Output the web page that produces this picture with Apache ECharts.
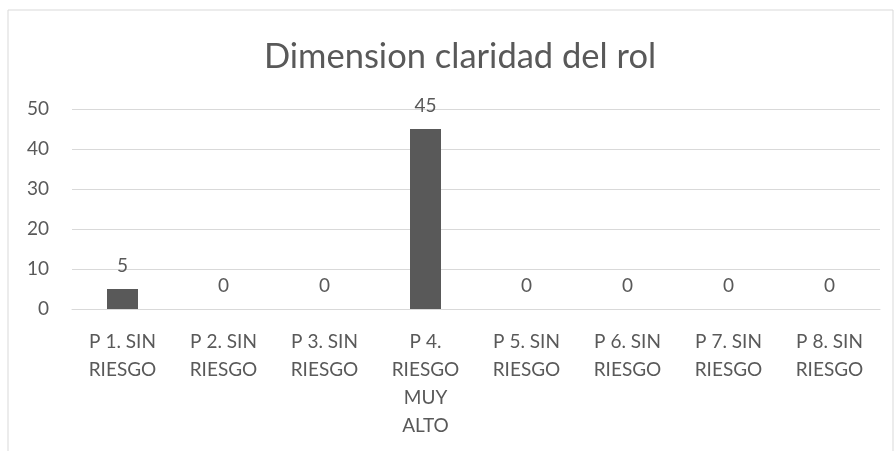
<!DOCTYPE html>
<html>
<head>
<meta charset="utf-8">
<script src="https://cdn.jsdelivr.net/npm/echarts@6/dist/echarts.min.js"></script>
<style>
  html, body { margin: 0; padding: 0; background: #fff; }
  #container { width: 896px; height: 451px; }
</style>
</head>
<body>
<div id="container"></div>
<script>
// datos del grafico
var categorias = ['P 1. SIN\nRIESGO', 'P 2. SIN\nRIESGO', 'P 3. SIN\nRIESGO', 'P 4.\nRIESGO\nMUY\nALTO',
                  'P 5. SIN\nRIESGO', 'P 6. SIN\nRIESGO', 'P 7. SIN\nRIESGO', 'P 8. SIN\nRIESGO'];
var valores = [5, 0, 0, 45, 0, 0, 0, 0];
var yTicks = [0, 10, 20, 30, 40, 50];

var fuente = 'Lato, "Open Sans", sans-serif';
var gris = '#595959';

var dom = document.getElementById('container');
var myChart = echarts.init(dom);
var option = {
    backgroundColor: '#fff',
    animation: false,
    title: {
        text: 'Dimension claridad del rol',
        left: 455,
        top: 34,
        textAlign: 'center',
        textStyle: { fontFamily: fuente, fontSize: 34.5, fontWeight: 'normal', color: gris }
    },
    graphic: [{
        type: 'rect',
        shape: { x: 8, y: 10, width: 885, height: 470 },
        style: { fill: 'none', stroke: '#d9d9d9', lineWidth: 1 },
        silent: true
    }],
    grid: { left: 72, right: 16, top: 109, bottom: 142 },
    xAxis: {
        type: 'category',
        data: categorias,
        axisLine: { show: true, lineStyle: { color: '#d9d9d9', width: 1 } },
        axisTick: { show: false },
        axisLabel: {
            interval: 0,
            margin: 19,
            fontFamily: fuente,
            fontSize: 19,
            lineHeight: 28,
            color: gris
        }
    },
    yAxis: {
        type: 'value',
        min: yTicks[0],
        max: yTicks[yTicks.length - 1],
        interval: 10,
        axisLine: { show: false },
        axisTick: { show: false },
        splitLine: { lineStyle: { color: '#d9d9d9', width: 1 } },
        axisLabel: { margin: 23, fontFamily: fuente, fontSize: 19, color: gris }
    },
    series: [{
        type: 'bar',
        data: valores,
        barWidth: 31,
        itemStyle: { color: gris },
        label: {
            show: true,
            position: 'top',
            distance: 14,
            fontFamily: fuente,
            fontSize: 19,
            color: gris
        }
    }]
};
myChart.setOption(option, true);
</script>
</body>
</html>
